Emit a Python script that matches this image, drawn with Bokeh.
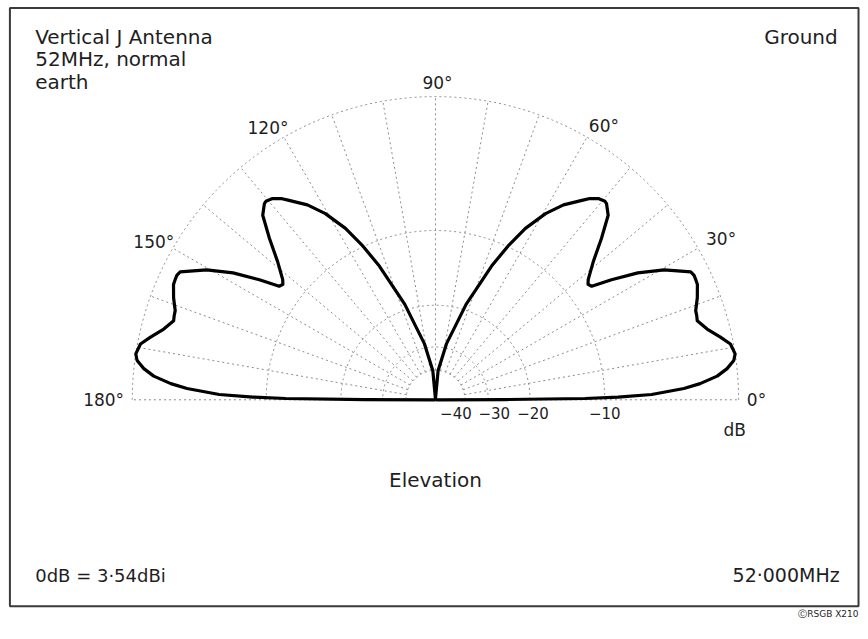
import numpy as np
from bokeh.plotting import figure
from bokeh.models import Range1d, Label
from bokeh.core.properties import value
from bokeh.embed import file_html
from bokeh.resources import INLINE

# ---- data (elevation pattern, symmetric about 90 deg) ----
elev_deg = [0, 0.2, 0.5, 0.85, 1.4, 2.6, 3.5, 4.8, 6.1, 7.5,
            8.7, 10.7, 12.4, 14.6, 16.8, 17.8, 18.9, 21.3, 23.75, 24.8,
            25.7, 26.6, 27.3, 29.6, 32.1, 34.3, 36.0, 37.1, 38.2, 41.2,
            44.2, 46.9, 48.9, 49.5, 51.0, 52.5, 53.7, 56.7, 59.4, 62.3,
            64.6, 67.1, 69.2, 72.2, 74.6, 78.9, 84.8, 90]
gain_db = [-100, -25, -12.1, -8.7, -5.8, -3.4, -2.3, -1.2, -0.57, -0.13,
           0, -0.17, -0.66, -1.32, -1.77, -1.71, -1.67, -1.30, -0.99, -0.96,
           -0.94, -1.03, -1.37, -2.43, -4.09, -6.05, -7.74, -7.9, -7.63, -6.32,
           -4.62, -3.12, -2.62, -2.57, -2.71, -3.06, -3.49, -4.5, -5.8, -7.7,
           -9.8, -12.5, -15.5, -19, -23.2, -28.7, -40, -100]

ring_db = [0, -10, -20, -30, -40]
ring_labels = ["", "\u221210", "\u221220", "\u221230", "\u221240"]
angle_ticks = [0, 30, 60, 90, 120, 150, 180]
angle_labels = ["0\u00b0", "30\u00b0", "60\u00b0", "90\u00b0", "120\u00b0", "150\u00b0", "180\u00b0"]
spoke_step = 10

FONT_NAME = "DejaVu Sans"
FONT = value(FONT_NAME)
TXT = "#1e1e1e"
GRID = "#8c8c8c"


def arrl_r(db):
    """ARRL log-periodic radial scale: 0.89 per 2 dB."""
    return 0.89 ** (-np.asarray(db, dtype=float) / 2.0)


# reference-pixel geometry -> data units (outer ring radius = 1)
CX, CY, RPX = 439.0, 403.0, 306.0
W, H = 860, 631
REF_W = 868.0
REF_H = H * REF_W / W


def dx(px):
    return (px - CX) / RPX


def dy(py):
    return (CY - py) / RPX


p = figure(width=W, height=H, output_backend="svg", toolbar_location=None,
           x_range=Range1d(dx(0), dx(REF_W)), y_range=Range1d(dy(REF_H), dy(0)),
           min_border=0, outline_line_color=None)
p.axis.visible = False
p.grid.visible = False
p.background_fill_color = "white"
p.border_fill_color = "white"

# frame box
p.quad(left=dx(9.5), right=dx(866), top=dy(7.5), bottom=dy(611.5),
       fill_color=None, line_color="#3a3a3a", line_width=2)

# grid rings
rr = arrl_r(ring_db)
p.arc(x=0, y=0, radius=rr, start_angle=0, end_angle=np.pi,
      line_color=GRID, line_width=1, line_dash="2 3")

# spokes
sp = np.deg2rad(np.arange(0, 181, spoke_step))
r_in = arrl_r(-40)
p.segment(x0=r_in * np.cos(sp), y0=r_in * np.sin(sp), x1=np.cos(sp), y1=np.sin(sp),
          line_color=GRID, line_width=1, line_dash="2 3")

# pattern (right half, then mirrored left half)
a = np.array(elev_deg)
g = np.array(gain_db)
full_a = np.concatenate([a, 180 - a[::-1][1:]])
full_g = np.concatenate([g, g[::-1][1:]])
rp = arrl_r(full_g)
th = np.deg2rad(full_a)
p.line(rp * np.cos(th), rp * np.sin(th), line_color="black", line_width=3.2,
       line_join="round", line_cap="round")

# angle labels
ta = np.array(angle_ticks, dtype=float)
mid = (ta > 0) & (ta < 180)
rl = 1.065
lab_dx = [6, 7, 2, -6, -2]
lab_dy = [1, 6, 6, 8, 4]
p.text(x=rl * np.cos(np.deg2rad(ta[mid])), y=rl * np.sin(np.deg2rad(ta[mid])),
       text=[t for t, m in zip(angle_labels, mid) if m], x_offset=lab_dx, y_offset=lab_dy,
       text_font=FONT, text_font_size="17px", text_align="center",
       text_baseline="middle", text_color=TXT)
p.text(x=[1.027], y=[0], text=[angle_labels[0]], text_font=FONT, text_font_size="17px",
       text_align="left", text_baseline="middle", text_color=TXT)
p.text(x=[-1.027], y=[0], text=[angle_labels[-1]], text_font=FONT, text_font_size="17px",
       text_align="right", text_baseline="middle", text_color=TXT)

# dB ring labels
lab_off = [0, 0, 3, 6, -9]
p.text(x=list(rr[1:]), y=[0] * 4, text=ring_labels[1:], x_offset=lab_off[1:], y_offset=[13] * 4,
       text_font=FONT, text_font_size="15px", text_align="center",
       text_baseline="middle", text_color=TXT)


def lab(x, y, t, align="left", size="20px"):
    p.add_layout(Label(x=dx(x), y=dy(y), text=t, text_font=FONT_NAME, text_font_size=size,
                       text_align=align, text_baseline="middle", text_color=TXT))


lab(741, 433, "dB", "center", "17px")
lab(35, 37, "Vertical J Antenna")
lab(35, 59, "52MHz, normal")
lab(35, 82, "earth")
lab(845, 37, "Ground", "right")
lab(439, 484, "Elevation", "center")
lab(35, 580, "0dB = 3\u00b754dBi", "left", "18px")
lab(847, 580, "52\u00b7000MHz", "right", "19px")
lab(866, 619, "\u24b8RSGB X210", "right", "9px")

open("out.html", "w").write(file_html(p, INLINE))
